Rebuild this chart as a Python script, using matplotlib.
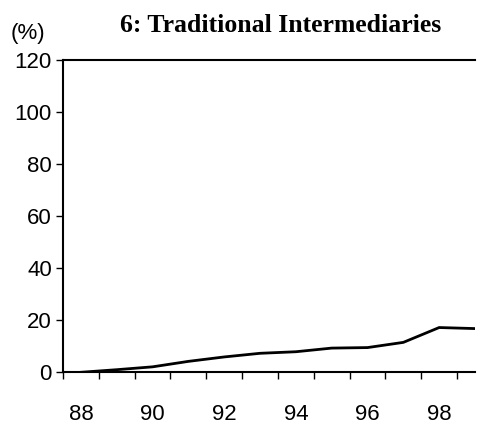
import matplotlib
matplotlib.use("Agg")
import matplotlib.pyplot as plt
import numpy as np

years = [88, 89, 90, 91, 92, 93, 94, 95, 96, 97, 98, 99]
share = [0.0, 1.0, 2.1, 4.2, 5.9, 7.3, 7.9, 9.3, 9.5, 11.5, 17.2, 16.8]
year_labels = ["88", "90", "92", "94", "96", "98"]
y_ticks = [0, 20, 40, 60, 80, 100, 120]

plt.rcParams["font.family"] = ["Liberation Sans", "DejaVu Sans"]

fig = plt.figure(figsize=(4.81, 4.25), dpi=100)
ax = fig.add_axes([63 / 481, (425 - 372.3) / 425, (475 - 63) / 481, (372.3 - 60) / 425])

ax.plot(years, share, color="black", linewidth=2.0, solid_joinstyle="miter")

ax.set_xlim(87.5, 99.0)
ax.set_ylim(0, 120)

ax.set_yticks(y_ticks)
ax.set_yticklabels([str(v) for v in y_ticks], fontsize=16)
ax.tick_params(axis="y", direction="out", length=5, width=1, pad=3, color="black")

# category boundaries carry the tick marks, labels sit at category centres
ax.set_xticks([int(v) for v in year_labels])
ax.set_xticklabels(year_labels, fontsize=16)
ax.tick_params(axis="x", which="major", length=0, pad=23)
ax.set_xticks(np.arange(87.5, 99.0, 1.0), minor=True)
ax.tick_params(axis="x", which="minor", direction="out", length=5, width=1, color="black")

for side in ("left", "top", "bottom"):
    ax.spines[side].set_linewidth(1.5)
    ax.spines[side].set_color("black")
ax.spines["right"].set_visible(False)

fig.text(281 / 481, 1 - 25 / 425, "6: Traditional Intermediaries", ha="center", va="center",
         fontsize=18.5, fontweight="bold", family=["Liberation Serif", "DejaVu Serif"])
fig.text(28 / 481, 1 - 34 / 425, "(%)", ha="center", va="center", fontsize=16)

fig.savefig("out.png", dpi=100)
